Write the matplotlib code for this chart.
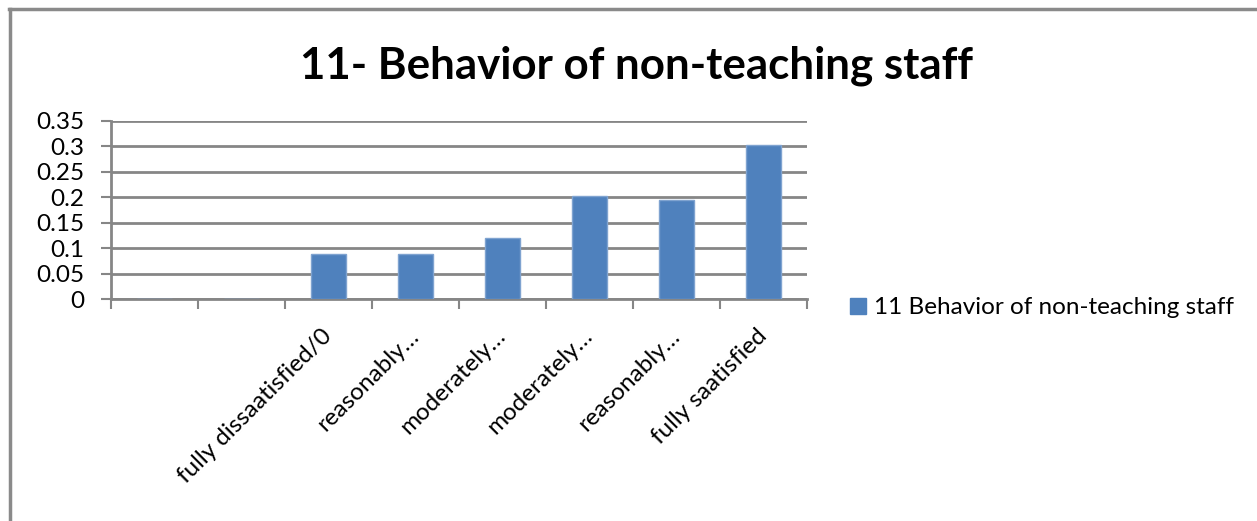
import matplotlib
matplotlib.use("Agg")
import matplotlib.pyplot as plt
import matplotlib.transforms as mtransforms
from matplotlib.lines import Line2D
from matplotlib.patches import Patch

categories = ["", "", "fully dissaatisfied/0", "reasonably…", "moderately…",
              "moderately…", "reasonably…", "fully saatisfied"]
values = [0, 0, 0.088, 0.088, 0.120, 0.203, 0.195, 0.302]
yticks = [0, 0.05, 0.1, 0.15, 0.2, 0.25, 0.3, 0.35]
ytick_labels = ["0", "0.05", "0.1", "0.15", "0.2", "0.25", "0.3", "0.35"]
title = "11- Behavior of non-teaching staff"
series_name = "11 Behavior of non-teaching staff"

FONT = "Lato"
plt.rcParams["font.family"] = [FONT, "DejaVu Sans"]

fig = plt.figure(figsize=(12.57, 5.21), dpi=100)
ax = fig.add_axes([0.0883, 0.4255, 0.642 - 0.0883, 0.7683 - 0.4255])

grid_c = "#868686"
x = list(range(len(categories)))
ax.bar(x, values, width=0.394, color="#4F81BD", edgecolor="#7FA3D0",
       linewidth=1, zorder=3)

ax.set_xlim(-0.5, len(categories) - 0.5)
ax.set_ylim(0, 0.35)
ax.set_yticks(yticks)
ax.set_yticklabels(ytick_labels, fontsize=17.5)
ax.yaxis.grid(True, color=grid_c, linewidth=2, zorder=0)
ax.set_axisbelow(True)

ax.set_xticks(x)
ax.set_xticklabels(categories, fontsize=17.5, rotation=45, ha="right",
                   va="center", rotation_mode="anchor")
ax.set_xticks([i - 0.5 for i in range(len(categories) + 1)], minor=True)
ax.tick_params(axis="x", which="major", length=0, pad=24)
ax.tick_params(axis="x", which="minor", length=7, width=1.5, color=grid_c)
ax.tick_params(axis="y", length=7, width=1.5, color=grid_c, pad=12)
offset = mtransforms.ScaledTranslation(0.0, 0, fig.dpi_scale_trans)
for lab in ax.get_xticklabels():
    lab.set_transform(lab.get_transform() + offset)

for s in ["top", "right"]:
    ax.spines[s].set_visible(False)
for s in ["left", "bottom"]:
    ax.spines[s].set_color(grid_c)
    ax.spines[s].set_linewidth(2)

fig.text(0.506, 0.874, title, fontsize=31.6, fontweight="bold",
         ha="center", va="center")

handle = Patch(facecolor="#4F81BD", edgecolor="#4F81BD")
fig.legend([handle], [series_name], loc="center left",
           bbox_to_anchor=(0.6763, 0.409), frameon=False, fontsize=17.5,
           handlelength=0.65, handleheight=0.65, handletextpad=0.35,
           borderpad=0, borderaxespad=0)

# outer chart border (top and left edges visible)
fig.add_artist(Line2D([9 / 1257, 1.0], [1 - 9 / 521, 1 - 9 / 521],
                      color="#8a8a8a", linewidth=2.5, transform=fig.transFigure))
fig.add_artist(Line2D([10 / 1257, 10 / 1257], [0, 1 - 9 / 521],
                      color="#8a8a8a", linewidth=2.5, transform=fig.transFigure))

fig.savefig("out.png", dpi=100, facecolor="white")
